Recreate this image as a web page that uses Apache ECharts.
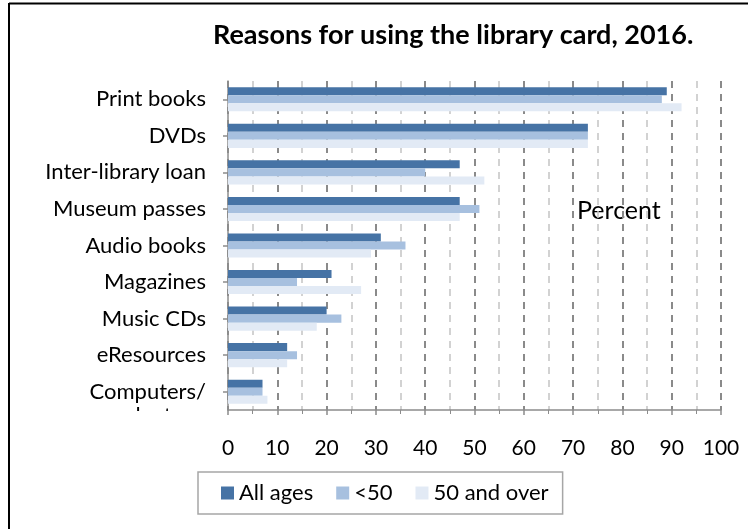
<!DOCTYPE html>
<html>
<head>
<meta charset="utf-8">
<script src="https://cdn.jsdelivr.net/npm/echarts@6/dist/echarts.min.js"></script>
<style>
  html, body { margin: 0; padding: 0; background: #fff; }
  #main { width: 748px; height: 529px; }
</style>
</head>
<body>
<div id="main"></div>
<script>
// reasons, top to bottom as in the picture
let categories = ['Print books', 'DVDs', 'Inter-library loan', 'Museum passes', 'Audio books',
  'Magazines', 'Music CDs', 'eResources', 'Computers/laptops'];
let allAges = [89, 73, 47, 47, 31, 21, 20, 12, 7];
let under50 = [88, 73, 40, 51, 36, 14, 23, 14, 7];
let over50 = [92, 73, 52, 47, 29, 27, 18, 12, 8];
let seriesNames = ['All ages', '<50', '50 and over'];

let font = 'Lato';
let chart = echarts.init(document.getElementById('main'));

// category axis goes bottom-up, so reverse for display
let cats = categories.slice().reverse();
let rev = function (arr) { return arr.slice().reverse(); };

let option = {
  animation: false,
  textStyle: { fontFamily: font },
  title: {
    text: '{b|Reasons for using the library card, 2016}{n|.}',
    left: 208,
    top: 17,
    textStyle: {
      rich: {
        b: { fontFamily: font, fontSize: 27, fontWeight: 'bold', color: '#000' },
        n: { fontFamily: font, fontSize: 27, color: '#000' }
      }
    }
  },
  legend: {
    data: seriesNames,
    left: 198,
    top: 472,
    icon: 'rect',
    itemWidth: 13,
    itemHeight: 13,
    itemGap: 23,
    padding: [10, 14, 10, 23],
    borderColor: '#a6a6a6',
    borderWidth: 1.5,
    textStyle: { fontFamily: font, fontSize: 22, color: '#000' }
  },
  grid: { left: 228, right: 27, top: 81, bottom: 119 },
  xAxis: {
    type: 'value',
    min: 0,
    max: 100,
    interval: 10,
    axisLine: { show: true, lineStyle: { color: '#8c8c8c', width: 1.5 } },
    axisTick: { show: true, length: 5, lineStyle: { color: '#8c8c8c', width: 1.5 } },
    minorTick: { show: true, splitNumber: 2, length: 4, lineStyle: { color: '#8c8c8c' } },
    axisLabel: { fontFamily: font, fontSize: 21, color: '#000', margin: 28 },
    splitLine: { show: true, lineStyle: { color: '#8a8a8a', width: 2, type: [7, 6] } },
    minorSplitLine: { show: true, lineStyle: { color: '#c4c4c4', width: 1.5, type: [7, 6] } }
  },
  yAxis: {
    type: 'category',
    data: cats,
    axisLine: { show: true, lineStyle: { color: '#8c8c8c', width: 1.5 } },
    axisTick: { show: true, alignWithLabel: true, length: 5, lineStyle: { color: '#8c8c8c', width: 1.5 } },
    axisLabel: {
      fontFamily: font,
      fontSize: 22,
      color: '#000',
      margin: 22,
      lineHeight: 24,
      interval: 0,
      showMinLabel: true,
      showMaxLabel: true,
      formatter: function (v) {
        // label was clipped in the original; keep the first line centred on its tick
        if (v === 'Computers/laptops') return '\nComputers/\nlaptops';
        return v;
      }
    },
    splitLine: { show: false }
  },
  series: [
    {
      name: seriesNames[0], type: 'bar', data: rev(allAges),
      barGap: '0%', barCategoryGap: '34%',
      itemStyle: { color: '#4673a5' }
    },
    {
      name: seriesNames[1], type: 'bar', data: rev(under50),
      barGap: '0%', barCategoryGap: '34%',
      itemStyle: { color: '#a7c0df' }
    },
    {
      name: seriesNames[2], type: 'bar', data: rev(over50),
      barGap: '0%', barCategoryGap: '34%',
      itemStyle: { color: '#e2eaf5' }
    }
  ],
  graphic: [
    // clip the second line of the last label like the original
    { type: 'rect', z: 100, shape: { x: 12, y: 411, width: 212, height: 30 }, style: { fill: '#fff' } },
    { type: 'text', left: 577, top: 198, style: { text: 'Percent', fontFamily: font, fontSize: 25, fill: '#000' } },
    // outer frame, only top and left edges show
    { type: 'line', z: 100, shape: { x1: 9, y1: 3.5, x2: 748, y2: 3.5 }, style: { stroke: '#000', lineWidth: 2 } },
    { type: 'line', z: 100, shape: { x1: 9, y1: 3, x2: 9, y2: 529 }, style: { stroke: '#000', lineWidth: 2 } }
  ]
};

chart.setOption(option);
</script>
</body>
</html>
